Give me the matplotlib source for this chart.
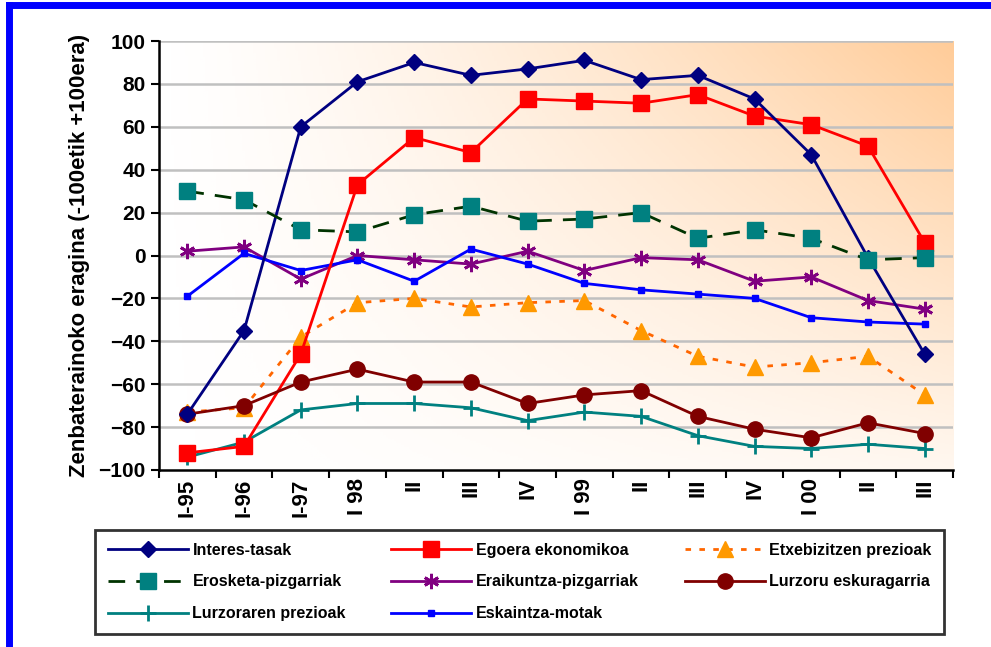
import numpy as np
import matplotlib.pyplot as plt
from matplotlib.colors import LinearSegmentedColormap
from matplotlib.lines import Line2D

plt.rcParams['font.family'] = ['Liberation Sans', 'DejaVu Sans']

hiruhilekoak = ['I-95', 'I-96', 'I-97', 'I 98', 'II', 'III', 'IV',
                'I 99', 'II', 'III', 'IV', 'I 00', 'II', 'III']

interes_tasak = [-74, -35, 60, 81, 90, 84, 87, 91, 82, 84, 73, 47, -1, -46]
egoera_ekonomikoa = [-92, -89, -46, 33, 55, 48, 73, 72, 71, 75, 65, 61, 51, 6]
etxebizitzen_prezioak = [-73, -71, -38, -22, -20, -24, -22, -21, -35, -47, -52, -50, -47, -65]
erosketa_pizgarriak = [30, 26, 12, 11, 19, 23, 16, 17, 20, 8, 12, 8, -2, -1]
eraikuntza_pizgarriak = [2, 4, -11, 0, -2, -4, 2, -7, -1, -2, -12, -10, -21, -25]
lurzoru_eskuragarria = [-74, -70, -59, -53, -59, -59, -69, -65, -63, -75, -81, -85, -78, -83]
lurzoraren_prezioak = [-94, -87, -72, -69, -69, -71, -77, -73, -75, -84, -89, -90, -88, -90]
eskaintza_motak = [-19, 1, -7, -2, -12, 3, -4, -13, -16, -18, -20, -29, -31, -32]

fig = plt.figure(figsize=(9.91, 6.47), dpi=100)
ax = fig.add_axes([0.1604, 0.2736, 0.8013, 0.663])
x = np.arange(len(hiruhilekoak))

# peach gradient behind the plot area (white bottom-left, peach top-right)
gx, gy = np.meshgrid(np.linspace(0, 1, 300), np.linspace(1, 0, 200))
t = np.clip(gx ** 1.3 * (0.15 + 0.85 * gy), 0, 1)
cmap = LinearSegmentedColormap.from_list('peach', ['#FFFFFF', '#FFCC99'])
ax.imshow(t, cmap=cmap, extent=[-0.5, 13.5, -100, 100], aspect='auto',
          zorder=0, vmin=0, vmax=1)

for yv in range(-80, 101, 20):
    ax.axhline(yv, color='#C0C0C0', lw=1.8, zorder=1)

ax.plot(x, interes_tasak, color='#000080', lw=2, marker='D', ms=8,
        label='Interes-tasak', zorder=5)
ax.plot(x, egoera_ekonomikoa, color='#FF0000', lw=2, marker='s', ms=11,
        label='Egoera ekonomikoa', zorder=4)
ax.plot(x, etxebizitzen_prezioak, color='#FF6600', lw=2, ls=(0, (2, 3)),
        marker='^', ms=11, mfc='#FF9900', mec='#FF9900',
        label='Etxebizitzen prezioak', zorder=3)
ax.plot(x, erosketa_pizgarriak, color='#003300', lw=2, ls=(0, (6, 4)),
        marker='s', ms=12, mfc='#008080', mec='#008080',
        label='Erosketa-pizgarriak', zorder=6)
ax.plot(x, eraikuntza_pizgarriak, color='#800080', lw=2, marker=(6, 2, 0),
        ms=11, mew=2, label='Eraikuntza-pizgarriak', zorder=3)
ax.plot(x, lurzoru_eskuragarria, color='#800000', lw=2, marker='o', ms=11,
        label='Lurzoru eskuragarria', zorder=4)
ax.plot(x, lurzoraren_prezioak, color='#008080', lw=2, marker='+', ms=12,
        mew=2, label='Lurzoraren prezioak', zorder=3)
ax.plot(x, eskaintza_motak, color='#0000FF', lw=2, marker='s', ms=5,
        label='Eskaintza-motak', zorder=3)

ax.set_xlim(-0.5, 13.5)
ax.set_ylim(-100, 100)
ax.set_yticks(range(-100, 101, 20))
ax.set_xticks(np.arange(-0.5, 14, 1))
ax.set_xticklabels([])
ax.set_xticks(x, minor=True)
ax.set_xticklabels(hiruhilekoak, minor=True, rotation=90, fontsize=16,
                   fontweight='bold', va='top')
ax.tick_params(axis='x', which='minor', length=0, pad=6)
ax.tick_params(axis='x', which='major', length=6, width=1.5, direction='out')
ax.tick_params(axis='y', length=6, width=1.5, direction='out', labelsize=15)
for lbl in ax.get_yticklabels():
    lbl.set_fontweight('bold')

for s in ['top', 'right']:
    ax.spines[s].set_visible(False)
for s in ['left', 'bottom']:
    ax.spines[s].set_linewidth(1.8)

ax.set_ylabel('Zenbaterainoko eragina (-100etik +100era)', fontsize=16,
              fontweight='bold', labelpad=6)

# legend filled column by column, so order the entries accordingly
h, l = ax.get_legend_handles_labels()
order = [0, 3, 6, 1, 4, 7, 2, 5]
leg = fig.legend([h[i] for i in order], [l[i] for i in order], ncol=3,
                 loc='upper left', bbox_to_anchor=(0.0959, 0.181),
                 bbox_transform=fig.transFigure, frameon=True, fancybox=False,
                 fontsize=11.5, handlelength=5.0, columnspacing=2.85,
                 labelspacing=1.05, borderpad=0.8, handletextpad=0.3,
                 borderaxespad=0)
leg.get_frame().set_edgecolor('black')
leg.get_frame().set_linewidth(2)
for txt in leg.get_texts():
    txt.set_fontweight('bold')

# blue frame around the figure
fig.add_artist(Line2D([0.0095, 0.0095], [0, 0.993], color='#0000FF', lw=5,
                      transform=fig.transFigure))
fig.add_artist(Line2D([0.0095, 1], [0.993, 0.993], color='#0000FF', lw=5,
                      transform=fig.transFigure))

fig.savefig('out.png', dpi=100)
